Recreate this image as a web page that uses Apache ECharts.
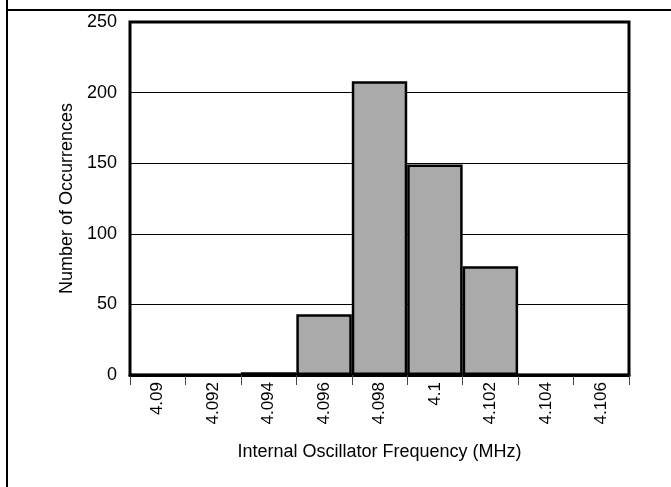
<!DOCTYPE html>
<html><head><meta charset="utf-8">
<script src="https://cdn.jsdelivr.net/npm/echarts@6/dist/echarts.min.js"></script>
<style>html,body{margin:0;padding:0;background:#fff}#c{width:671px;height:487px}</style>
</head><body><div id="c"></div>
<script>
var categories = ['4.09','4.092','4.094','4.096','4.098','4.1','4.102','4.104','4.106'];
var occurrences = [0, 0, 2, 43, 208, 149, 77, 0, 0];
var yTicks = [0, 50, 100, 150, 200, 250];
var xName = 'Internal Oscillator Frequency (MHz)';
var yName = 'Number of Occurrences';

var chart = echarts.init(document.getElementById('c'), null, {renderer:'canvas'});
var font = 'Liberation Sans, Arial, sans-serif';
chart.setOption({
  animation:false,
  backgroundColor:'#fff',
  textStyle:{fontFamily:font},
  grid:{left:130,right:42,top:22,bottom:112,show:true,borderColor:'#000',borderWidth:3,backgroundColor:'transparent'},
  xAxis:{
    type:'category', data:categories, boundaryGap:true,
    name:xName, nameLocation:'middle', nameGap:68,
    nameTextStyle:{fontSize:18,color:'#000',fontFamily:font},
    axisLine:{show:true,lineStyle:{color:'#000',width:3}},
    axisTick:{show:true,length:10,lineStyle:{color:'#444',width:1}},
    axisLabel:{rotate:90,fontSize:17,color:'#000',margin:7,fontFamily:font}
  },
  yAxis:{
    type:'value', min:yTicks[0], max:yTicks[yTicks.length-1], interval:50,
    name:yName, nameLocation:'middle', nameGap:47,
    nameTextStyle:{fontSize:18,color:'#000',fontFamily:font},
    axisLine:{show:false}, axisTick:{show:false},
    axisLabel:{fontSize:18,color:'#000',margin:13,fontFamily:font},
    splitLine:{show:true,lineStyle:{color:'#000',width:1}}
  },
  series:[{
    type:'bar', data:occurrences, barWidth:'100%', barCategoryGap:'0%',
    itemStyle:{color:'#aaaaaa',borderColor:'#000',borderWidth:2.5}
  }],
  graphic:[
    {type:'line',shape:{x1:7,y1:0,x2:7,y2:487},style:{stroke:'#000',lineWidth:2},z:100},
    {type:'line',shape:{x1:7,y1:10,x2:671,y2:10},style:{stroke:'#000',lineWidth:2},z:100}
  ]
});
</script></body></html>
